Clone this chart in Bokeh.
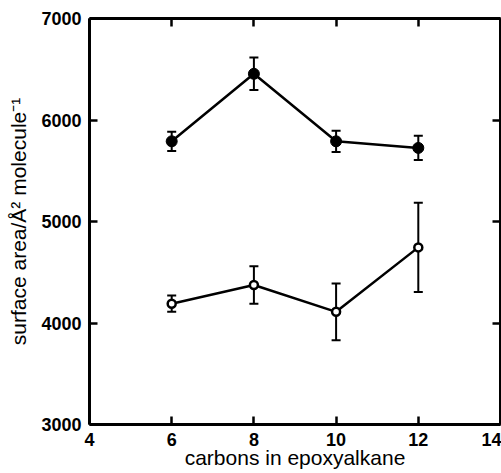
from bokeh.plotting import figure
from bokeh.models import (Range1d, FixedTicker, LinearAxis, Whisker, ColumnDataSource,
                          TeeHead)
from bokeh.embed import file_html
from bokeh.resources import INLINE

# ---- data ----
carbons = [6, 8, 10, 12]
filled_area = [5790, 6455, 5790, 5725]
filled_err = [95, 160, 105, 120]
open_area = [4190, 4375, 4110, 4745]
open_err = [80, 185, 280, 440]

x_ticks = [4, 6, 8, 10, 12, 14]
y_ticks = [3000, 4000, 5000, 6000, 7000]
x_label = "carbons in epoxyalkane"
y_label = "surface area/Å² molecule⁻¹"

FONT = "Liberation Sans"

p = figure(width=501, height=473, output_backend="svg", toolbar_location=None,
           x_range=Range1d(4, 14), y_range=Range1d(3000, 7000),
           min_border_left=89, min_border_right=1, min_border_top=18,
           min_border_bottom=49,
           x_axis_label=x_label, y_axis_label=y_label)
p.xgrid.visible = False
p.ygrid.visible = False
p.outline_line_color = None
p.background_fill_color = "white"
p.border_fill_color = "white"

p.add_layout(LinearAxis(), "above")
p.add_layout(LinearAxis(), "right")

for ax in p.xaxis:
    ax.ticker = FixedTicker(ticks=x_ticks)
for ax in p.yaxis:
    ax.ticker = FixedTicker(ticks=y_ticks)

for ax in p.axis:
    ax.axis_line_width = 3
    ax.axis_line_color = "black"
    ax.major_tick_in = 8
    ax.major_tick_out = 0
    ax.major_tick_line_width = 2.5
    ax.major_tick_line_color = "black"
    ax.minor_tick_line_color = None
    ax.major_label_text_font = FONT
    ax.major_label_text_font_style = "bold"
    ax.major_label_text_font_size = "18px"
    ax.major_label_text_color = "black"
    ax.major_label_text_line_height = 1.0
    ax.major_label_standoff = 8
    ax.axis_label_text_font = FONT
    ax.axis_label_text_font_style = "normal"
    ax.axis_label_text_font_size = "21px"
    ax.axis_label_text_color = "black"
    ax.axis_label_text_line_height = 1.0
    ax.axis_label_standoff = -3

p.xaxis[0].major_label_text_line_height = 0.7
p.xaxis[0].axis_label_standoff = 3
p.yaxis[0].axis_label_standoff = 8

for ax in p.above + p.right:
    ax.major_label_text_font_size = "0px"
    ax.major_label_text_color = None
    ax.major_label_standoff = 0

src_f = ColumnDataSource(dict(x=carbons, y=filled_area,
                              upper=[a + e for a, e in zip(filled_area, filled_err)],
                              lower=[a - e for a, e in zip(filled_area, filled_err)]))
src_o = ColumnDataSource(dict(x=carbons, y=open_area,
                              upper=[a + e for a, e in zip(open_area, open_err)],
                              lower=[a - e for a, e in zip(open_area, open_err)]))

for src in (src_f, src_o):
    w = Whisker(base="x", upper="upper", lower="lower", source=src,
                line_width=2, line_color="black",
                upper_head=TeeHead(size=9, line_width=2, line_color="black"),
                lower_head=TeeHead(size=9, line_width=2, line_color="black"))
    p.add_layout(w)

p.line("x", "y", source=src_f, line_width=2.5, line_color="black")
p.line("x", "y", source=src_o, line_width=2.5, line_color="black")
p.scatter("x", "y", source=src_f, size=11, marker="circle",
          fill_color="black", line_color="black", line_width=1)
p.scatter("x", "y", source=src_o, size=8, marker="circle",
          fill_color="white", line_color="black", line_width=2.5)

open("out.html", "w").write(file_html(p, INLINE))
